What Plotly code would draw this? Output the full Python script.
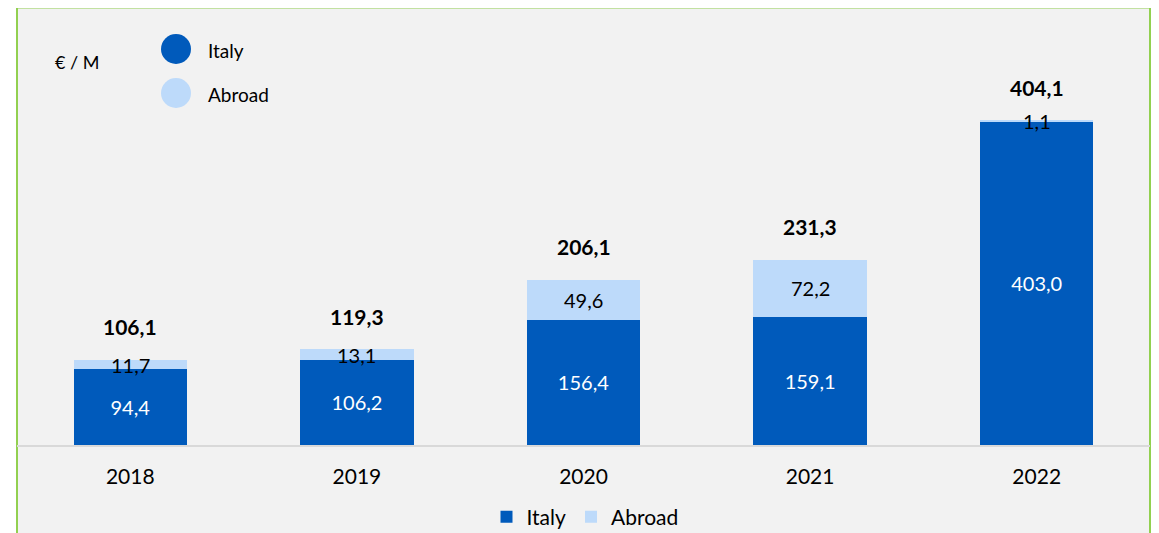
import plotly.graph_objects as go

years = ["2018", "2019", "2020", "2021", "2022"]
italy = [94.4, 106.2, 156.4, 159.1, 403.0]
abroad = [11.7, 13.1, 49.6, 72.2, 1.1]
totals = [106.1, 119.3, 206.1, 231.3, 404.1]

C_ITALY = "#005ABB"
C_ABROAD = "#BDDAFA"
BG = "#F2F2F2"
GREEN = "#92D050"
FONT = "Lato"

OFF = 8  # page body margin
W, H = 1159, 533
ML, MR, MT, MB = 17 - OFF, W - (1150 - OFF), 2, H - (445 - OFF)
PW = W - ML - MR
PH = H - MT - MB
SCALE = 0.8018  # px per unit


def px(x):
    return (x - OFF - ML) / PW


def py(y):
    return (H - MB - (y - OFF)) / PH


def fmt(v):
    return f"{v:.1f}".replace(".", ",")


fig = go.Figure()
fig.add_trace(go.Bar(
    x=years, y=italy, name="Italy", marker=dict(color=C_ITALY, line=dict(width=0)),
    text=[fmt(v) for v in italy], textposition="inside", insidetextanchor="middle",
    textfont=dict(color="white", size=20, family=FONT), textangle=0,
))
fig.add_trace(go.Bar(
    x=years, y=abroad, name="Abroad", marker=dict(color=C_ABROAD, line=dict(width=0)),
))

annotations = []
for k, (i, a, t) in enumerate(zip(italy, abroad, totals)):
    annotations.append(dict(x=k, y=i + a / 2, text=fmt(a), showarrow=False,
                            font=dict(color="black", size=20, family=FONT),
                            xanchor="center", yanchor="middle"))
    annotations.append(dict(x=k, y=t, text=f"<b>{fmt(t)}</b>", showarrow=False,
                            font=dict(color="black", size=21, family=FONT),
                            xanchor="center", yanchor="middle", yshift=33))

# top-left manual legend
annotations += [
    dict(xref="paper", yref="paper", x=px(77), y=py(62), text="€ / M", showarrow=False,
         font=dict(color="black", size=18, family=FONT), xanchor="center", yanchor="middle"),
    dict(xref="paper", yref="paper", x=px(206), y=py(50), text="Italy", showarrow=False,
         font=dict(color="black", size=19, family=FONT), xanchor="left", yanchor="middle"),
    dict(xref="paper", yref="paper", x=px(206), y=py(94), text="Abroad", showarrow=False,
         font=dict(color="black", size=19, family=FONT), xanchor="left", yanchor="middle"),
]

shapes = [
    dict(type="rect", xref="paper", yref="paper", x0=px(17), x1=px(1150), y0=py(600), y1=py(7.5),
         fillcolor=BG, line=dict(color=GREEN, width=2), layer="below"),
    dict(type="circle", xref="paper", yref="paper", x0=px(161), x1=px(191), y0=py(64), y1=py(34),
         fillcolor=C_ITALY, line=dict(width=0)),
    dict(type="circle", xref="paper", yref="paper", x0=px(161), x1=px(191), y0=py(108), y1=py(78),
         fillcolor=C_ABROAD, line=dict(width=0)),
]

fig.update_layout(
    width=W, height=H, barmode="stack", bargap=0.5,
    margin=dict(l=ML, r=MR, t=MT, b=MB),
    paper_bgcolor="white", plot_bgcolor=BG,
    font=dict(family=FONT, color="black"),
    showlegend=True,
    legend=dict(orientation="h", x=px(585), xanchor="center", y=py(517), yanchor="middle",
                font=dict(size=21, family=FONT, color="black"), bgcolor="rgba(0,0,0,0)",
                traceorder="normal"),
    annotations=annotations, shapes=shapes,
    xaxis=dict(type="category", range=[-0.5, 4.5], showline=True, linecolor="#D9D9D9",
               linewidth=2, showgrid=False, ticks="", tickfont=dict(size=21, family=FONT, color="black"),
               ticklabelstandoff=12, fixedrange=True),
    yaxis=dict(range=[0, PH / SCALE], visible=False, showgrid=False, zeroline=False, fixedrange=True),
    uniformtext=dict(minsize=10, mode="show"),
)

fig.write_html("out.html")
